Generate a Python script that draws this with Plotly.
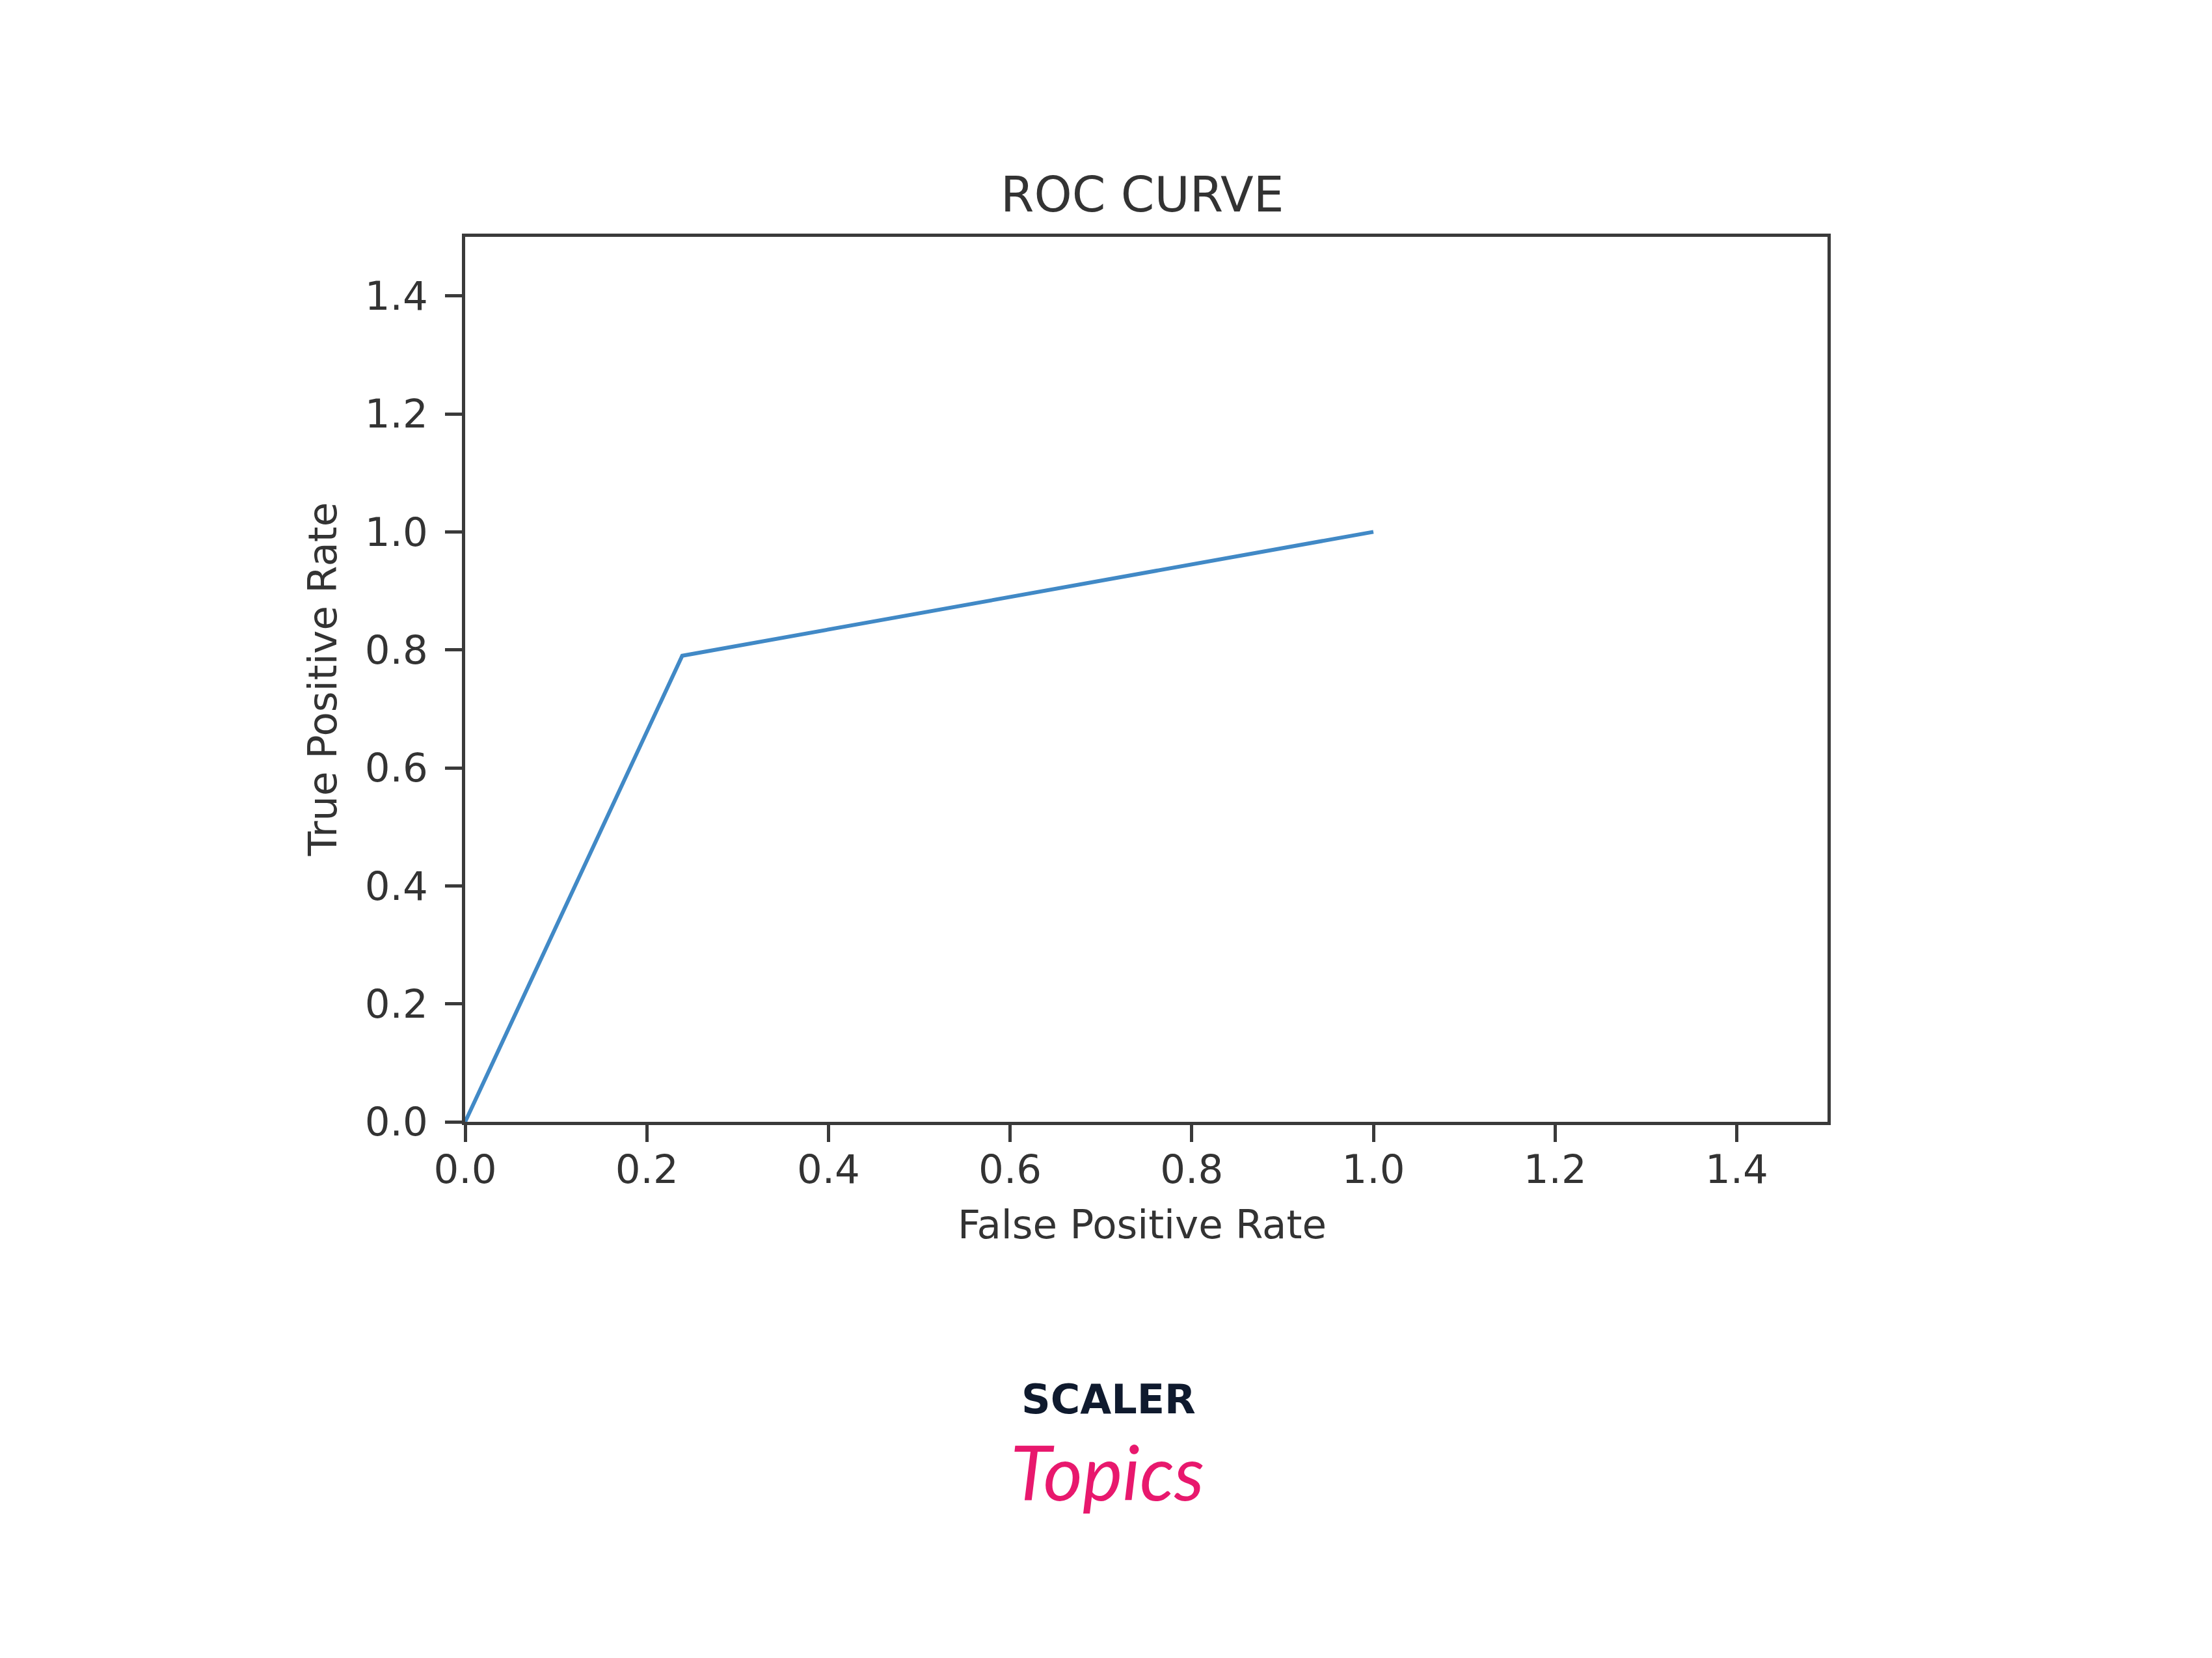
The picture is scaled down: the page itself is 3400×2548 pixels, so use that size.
import plotly.graph_objects as go

fpr = [0.0, 0.239, 1.0]
tpr = [0.0, 0.79, 1.0]
tick_vals = [0.0, 0.2, 0.4, 0.6, 0.8, 1.0, 1.2, 1.4]
tick_text = ["0.0", "0.2", "0.4", "0.6", "0.8", "1.0", "1.2", "1.4"]

title_text = "ROC CURVE"
x_label = "False Positive Rate"
y_label = "True Positive Rate"

TXT = "#333333"
FONT = "DejaVu Sans"

fig = go.Figure()
fig.add_trace(go.Scatter(x=fpr, y=tpr, mode="lines",
                         line=dict(color="#4189c6", width=6),
                         showlegend=False, hoverinfo="skip"))

axis_common = dict(
    range=[0, 1.5], tickvals=tick_vals, ticktext=tick_text,
    showgrid=False, zeroline=False, showline=True, mirror=True,
    linecolor="#3a3a3a", linewidth=5,
    ticks="outside", ticklen=26, tickwidth=5, tickcolor="#3a3a3a",
    tickfont=dict(family=FONT, size=61, color=TXT),
)

fig.update_layout(
    width=3400, height=2548,
    margin=dict(l=707, r=599, t=356, b=832, pad=0),
    paper_bgcolor="white", plot_bgcolor="white",
    xaxis=dict(**axis_common, ticklabelstandoff=-10),
    yaxis=dict(**axis_common, ticklabelstandoff=14),
    annotations=[
        dict(text=title_text, xref="paper", yref="paper", x=0.4967, y=1.048,
             xanchor="center", yanchor="middle", showarrow=False,
             font=dict(family=FONT, size=74, color=TXT)),
        dict(text=x_label, xref="paper", yref="paper", x=0.4967, y=-0.116,
             xanchor="center", yanchor="middle", showarrow=False,
             font=dict(family=FONT, size=61, color=TXT)),
        dict(text=y_label, xref="paper", yref="paper", x=-0.105, y=0.5,
             xanchor="center", yanchor="middle", showarrow=False, textangle=-90,
             font=dict(family=FONT, size=61, color=TXT)),
        dict(text="<b>SCALER</b>", xref="paper", yref="paper", x=0.4723, y=-0.3135,
             xanchor="center", yanchor="middle", showarrow=False,
             font=dict(family="DejaVu Sans", size=62, color="#0f1a2e")),
        dict(text="<i>Topics</i>", xref="paper", yref="paper", x=0.4714, y=-0.395,
             xanchor="center", yanchor="middle", showarrow=False,
             font=dict(family="Lato", size=116, color="#e8186d")),
    ],
)

fig.write_html("out.html")
